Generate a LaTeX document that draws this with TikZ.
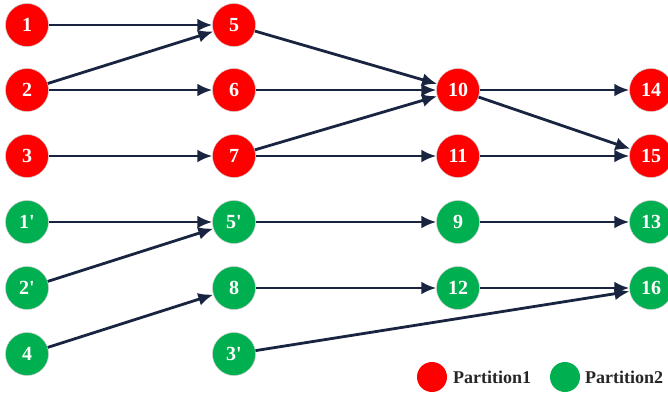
\documentclass[tikz,border=0pt]{standalone}
\usepackage{fontspec}
\setmainfont{Liberation Serif}
\usetikzlibrary{arrows.meta}
\definecolor{pred}{RGB}{255,0,0}
\definecolor{pgreen}{RGB}{0,176,80}
\definecolor{edgec}{RGB}{24,36,64}
\newcommand{\pr}{\textquotesingle}
\begin{document}
\begin{tikzpicture}[x=1pt,y=-1pt,
  vtx/.style={circle,minimum size=43pt,inner sep=0pt,draw=black!20,line width=0.5pt,
    text=white,font=\fontsize{20}{22}\selectfont\bfseries},
  rednode/.style={vtx,fill=pred},
  greennode/.style={vtx,fill=pgreen},
  link/.style={draw=edgec,line width=2.8pt,-{Latex[length=15pt,width=13pt]}},
  legdot/.style={circle,minimum size=30pt,inner sep=0pt},
  legtext/.style={anchor=west,inner sep=0pt,font=\fontsize{18}{20}\selectfont\bfseries,text=black!85}]
\useasboundingbox (0,0) rectangle (668,392);
% first column
\node[rednode] (n1) at (27,25) {1};
\node[rednode] (n2) at (27,90) {2};
\node[rednode] (n3) at (27,156) {3};
\node[greennode] (n1p) at (27,222) {1\pr};
\node[greennode] (n2p) at (27,288) {2\pr};
\node[greennode] (n4) at (27,354) {4};
% second column
\node[rednode] (n5) at (234,25) {5};
\node[rednode] (n6) at (234,90) {6};
\node[rednode] (n7) at (234,156) {7};
\node[greennode] (n5p) at (234,222) {5\pr};
\node[greennode] (n8) at (234,288) {8};
\node[greennode] (n3p) at (234,354) {3\pr};
% third column
\node[rednode] (n10) at (458,90) {10};
\node[rednode] (n11) at (458,156) {11};
\node[greennode] (n9) at (458,222) {9};
\node[greennode] (n12) at (458,288) {12};
% fourth column
\node[rednode] (n14) at (651,90) {14};
\node[rednode] (n15) at (651,156) {15};
\node[greennode] (n13) at (651,222) {13};
\node[greennode] (n16) at (651,288) {16};
% edges
\draw[link] (n1) -- (n5);
\draw[link] (n2) -- (n5);
\draw[link] (n2) -- (n6);
\draw[link] (n3) -- (n7);
\draw[link] (n5) -- (n10);
\draw[link] (n6) -- (n10);
\draw[link] (n7) -- (n10);
\draw[link] (n7) -- (n11);
\draw[link] (n10) -- (n14);
\draw[link] (n10) -- (n15);
\draw[link] (n11) -- (n15);
\draw[link] (n1p) -- (n5p);
\draw[link] (n2p) -- (n5p);
\draw[link] (n4) -- (n8);
\draw[link] (n5p) -- (n9);
\draw[link] (n9) -- (n13);
\draw[link] (n8) -- (n12);
\draw[link] (n12) -- (n16);
\draw[link] (n3p) -- (n16);
% legend
\node[legdot,fill=pred] (l1) at (432,377) {};
\node[legtext] (t1) at (453,377) {Partition1};
\node[legdot,fill=pgreen] (l2) at (565,377) {};
\node[legtext] (t2) at (585,377) {Partition2};
\end{tikzpicture}
\end{document}
